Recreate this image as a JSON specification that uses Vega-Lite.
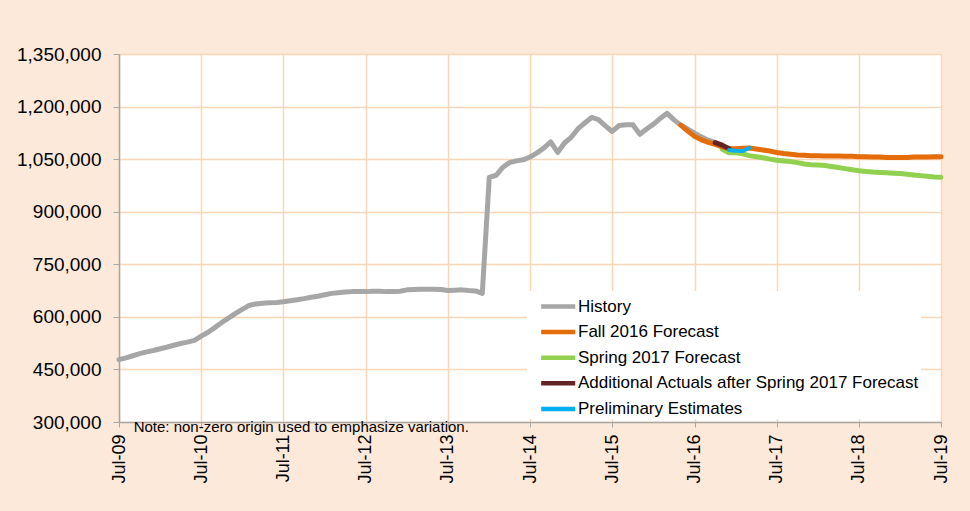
{
  "$schema": "https://vega.github.io/schema/vega-lite/v6.json",
  "width": 822,
  "height": 368,
  "autosize": {"type": "none"},
  "padding": {"left": 119, "top": 54, "right": 29, "bottom": 89},
  "background": "#FDE9D9",
  "config": {
    "view": {"fill": "white", "stroke": null},
    "font": "Liberation Sans",
    "axis": {
      "domainColor": "#A6A6A6",
      "domainWidth": 1.5,
      "tickColor": "#A6A6A6",
      "tickWidth": 1,
      "gridColor": "#FBD6B6",
      "gridWidth": 1.5,
      "labelColor": "black",
      "labelFont": "Liberation Sans",
      "title": null
    },
    "legend": {
      "orient": "none",
      "legendX": 408,
      "legendY": 237,
      "fillColor": "white",
      "padding": 1,
      "symbolOffset": 15.7,
      "symbolType": "M-1.42,0H1.42",
      "symbolSize": 576,
      "symbolStrokeWidth": 4.5,
      "labelFontSize": 17,
      "labelFont": "Liberation Sans",
      "labelColor": "black",
      "labelOffset": 5.3,
      "labelLimit": 600,
      "rowPadding": 1.6,
      "title": null
    }
  },
  "data": {
    "values": [
      {"series": "History", "date": "2009-07-01", "value": 478000},
      {"series": "History", "date": "2009-08-01", "value": 483000},
      {"series": "History", "date": "2009-09-01", "value": 489000},
      {"series": "History", "date": "2009-10-01", "value": 495000},
      {"series": "History", "date": "2009-11-01", "value": 500000},
      {"series": "History", "date": "2009-12-01", "value": 504000},
      {"series": "History", "date": "2010-01-01", "value": 509000},
      {"series": "History", "date": "2010-02-01", "value": 514000},
      {"series": "History", "date": "2010-03-01", "value": 519000},
      {"series": "History", "date": "2010-04-01", "value": 524000},
      {"series": "History", "date": "2010-05-01", "value": 528000},
      {"series": "History", "date": "2010-06-01", "value": 533000},
      {"series": "History", "date": "2010-07-01", "value": 545000},
      {"series": "History", "date": "2010-08-01", "value": 556000},
      {"series": "History", "date": "2010-09-01", "value": 570000},
      {"series": "History", "date": "2010-10-01", "value": 584000},
      {"series": "History", "date": "2010-11-01", "value": 597000},
      {"series": "History", "date": "2010-12-01", "value": 610000},
      {"series": "History", "date": "2011-01-01", "value": 622000},
      {"series": "History", "date": "2011-02-01", "value": 633000},
      {"series": "History", "date": "2011-03-01", "value": 637000},
      {"series": "History", "date": "2011-04-01", "value": 639000},
      {"series": "History", "date": "2011-05-01", "value": 640000},
      {"series": "History", "date": "2011-06-01", "value": 641000},
      {"series": "History", "date": "2011-07-01", "value": 643000},
      {"series": "History", "date": "2011-08-01", "value": 646000},
      {"series": "History", "date": "2011-09-01", "value": 649000},
      {"series": "History", "date": "2011-10-01", "value": 652000},
      {"series": "History", "date": "2011-11-01", "value": 656000},
      {"series": "History", "date": "2011-12-01", "value": 659000},
      {"series": "History", "date": "2012-01-01", "value": 663000},
      {"series": "History", "date": "2012-02-01", "value": 667000},
      {"series": "History", "date": "2012-03-01", "value": 669000},
      {"series": "History", "date": "2012-04-01", "value": 671000},
      {"series": "History", "date": "2012-05-01", "value": 672000},
      {"series": "History", "date": "2012-06-01", "value": 672000},
      {"series": "History", "date": "2012-07-01", "value": 672000},
      {"series": "History", "date": "2012-08-01", "value": 673000},
      {"series": "History", "date": "2012-09-01", "value": 673000},
      {"series": "History", "date": "2012-10-01", "value": 672000},
      {"series": "History", "date": "2012-11-01", "value": 672000},
      {"series": "History", "date": "2012-12-01", "value": 673000},
      {"series": "History", "date": "2013-01-01", "value": 677000},
      {"series": "History", "date": "2013-02-01", "value": 678000},
      {"series": "History", "date": "2013-03-01", "value": 679000},
      {"series": "History", "date": "2013-04-01", "value": 679000},
      {"series": "History", "date": "2013-05-01", "value": 679000},
      {"series": "History", "date": "2013-06-01", "value": 678000},
      {"series": "History", "date": "2013-07-01", "value": 675000},
      {"series": "History", "date": "2013-08-01", "value": 676000},
      {"series": "History", "date": "2013-09-01", "value": 677000},
      {"series": "History", "date": "2013-10-01", "value": 675000},
      {"series": "History", "date": "2013-11-01", "value": 674000},
      {"series": "History", "date": "2013-12-01", "value": 667000},
      {"series": "History", "date": "2014-01-01", "value": 998000},
      {"series": "History", "date": "2014-02-01", "value": 1004000},
      {"series": "History", "date": "2014-03-01", "value": 1026000},
      {"series": "History", "date": "2014-04-01", "value": 1040000},
      {"series": "History", "date": "2014-05-01", "value": 1045000},
      {"series": "History", "date": "2014-06-01", "value": 1048000},
      {"series": "History", "date": "2014-07-01", "value": 1056000},
      {"series": "History", "date": "2014-08-01", "value": 1068000},
      {"series": "History", "date": "2014-09-01", "value": 1082000},
      {"series": "History", "date": "2014-10-01", "value": 1099000},
      {"series": "History", "date": "2014-11-01", "value": 1069000},
      {"series": "History", "date": "2014-12-01", "value": 1096000},
      {"series": "History", "date": "2015-01-01", "value": 1113000},
      {"series": "History", "date": "2015-02-01", "value": 1138000},
      {"series": "History", "date": "2015-03-01", "value": 1153000},
      {"series": "History", "date": "2015-04-01", "value": 1169000},
      {"series": "History", "date": "2015-05-01", "value": 1163000},
      {"series": "History", "date": "2015-06-01", "value": 1145000},
      {"series": "History", "date": "2015-07-01", "value": 1129000},
      {"series": "History", "date": "2015-08-01", "value": 1146000},
      {"series": "History", "date": "2015-09-01", "value": 1148000},
      {"series": "History", "date": "2015-10-01", "value": 1148000},
      {"series": "History", "date": "2015-11-01", "value": 1121000},
      {"series": "History", "date": "2015-12-01", "value": 1136000},
      {"series": "History", "date": "2016-01-01", "value": 1150000},
      {"series": "History", "date": "2016-02-01", "value": 1167000},
      {"series": "History", "date": "2016-03-01", "value": 1181000},
      {"series": "History", "date": "2016-04-01", "value": 1162000},
      {"series": "History", "date": "2016-05-01", "value": 1147000},
      {"series": "History", "date": "2016-06-01", "value": 1136000},
      {"series": "History", "date": "2016-07-01", "value": 1124000},
      {"series": "History", "date": "2016-08-01", "value": 1113000},
      {"series": "History", "date": "2016-09-01", "value": 1104000},
      {"series": "History", "date": "2016-10-01", "value": 1097000},
      {"series": "Fall 2016 Forecast", "date": "2016-05-01", "value": 1147000},
      {"series": "Fall 2016 Forecast", "date": "2016-06-01", "value": 1130000},
      {"series": "Fall 2016 Forecast", "date": "2016-07-01", "value": 1115000},
      {"series": "Fall 2016 Forecast", "date": "2016-08-01", "value": 1105000},
      {"series": "Fall 2016 Forecast", "date": "2016-09-01", "value": 1098000},
      {"series": "Fall 2016 Forecast", "date": "2016-10-01", "value": 1092000},
      {"series": "Fall 2016 Forecast", "date": "2016-11-01", "value": 1085000},
      {"series": "Fall 2016 Forecast", "date": "2016-12-01", "value": 1080000},
      {"series": "Fall 2016 Forecast", "date": "2017-01-01", "value": 1080000},
      {"series": "Fall 2016 Forecast", "date": "2017-02-01", "value": 1081000},
      {"series": "Fall 2016 Forecast", "date": "2017-03-01", "value": 1082000},
      {"series": "Fall 2016 Forecast", "date": "2017-04-01", "value": 1079000},
      {"series": "Fall 2016 Forecast", "date": "2017-05-01", "value": 1076000},
      {"series": "Fall 2016 Forecast", "date": "2017-06-01", "value": 1073000},
      {"series": "Fall 2016 Forecast", "date": "2017-07-01", "value": 1069000},
      {"series": "Fall 2016 Forecast", "date": "2017-08-01", "value": 1066000},
      {"series": "Fall 2016 Forecast", "date": "2017-09-01", "value": 1064000},
      {"series": "Fall 2016 Forecast", "date": "2017-10-01", "value": 1062000},
      {"series": "Fall 2016 Forecast", "date": "2017-11-01", "value": 1061000},
      {"series": "Fall 2016 Forecast", "date": "2017-12-01", "value": 1060000},
      {"series": "Fall 2016 Forecast", "date": "2018-01-01", "value": 1060000},
      {"series": "Fall 2016 Forecast", "date": "2018-02-01", "value": 1059000},
      {"series": "Fall 2016 Forecast", "date": "2018-03-01", "value": 1059000},
      {"series": "Fall 2016 Forecast", "date": "2018-04-01", "value": 1059000},
      {"series": "Fall 2016 Forecast", "date": "2018-05-01", "value": 1058000},
      {"series": "Fall 2016 Forecast", "date": "2018-06-01", "value": 1058000},
      {"series": "Fall 2016 Forecast", "date": "2018-07-01", "value": 1057000},
      {"series": "Fall 2016 Forecast", "date": "2018-08-01", "value": 1057000},
      {"series": "Fall 2016 Forecast", "date": "2018-09-01", "value": 1056000},
      {"series": "Fall 2016 Forecast", "date": "2018-10-01", "value": 1056000},
      {"series": "Fall 2016 Forecast", "date": "2018-11-01", "value": 1055000},
      {"series": "Fall 2016 Forecast", "date": "2018-12-01", "value": 1055000},
      {"series": "Fall 2016 Forecast", "date": "2019-01-01", "value": 1055000},
      {"series": "Fall 2016 Forecast", "date": "2019-02-01", "value": 1055000},
      {"series": "Fall 2016 Forecast", "date": "2019-03-01", "value": 1056000},
      {"series": "Fall 2016 Forecast", "date": "2019-04-01", "value": 1056000},
      {"series": "Fall 2016 Forecast", "date": "2019-05-01", "value": 1056000},
      {"series": "Fall 2016 Forecast", "date": "2019-06-01", "value": 1057000},
      {"series": "Fall 2016 Forecast", "date": "2019-07-01", "value": 1057000},
      {"series": "Spring 2017 Forecast", "date": "2016-11-01", "value": 1078000},
      {"series": "Spring 2017 Forecast", "date": "2016-12-01", "value": 1068000},
      {"series": "Spring 2017 Forecast", "date": "2017-01-01", "value": 1068000},
      {"series": "Spring 2017 Forecast", "date": "2017-02-01", "value": 1065000},
      {"series": "Spring 2017 Forecast", "date": "2017-03-01", "value": 1060000},
      {"series": "Spring 2017 Forecast", "date": "2017-04-01", "value": 1057000},
      {"series": "Spring 2017 Forecast", "date": "2017-05-01", "value": 1054000},
      {"series": "Spring 2017 Forecast", "date": "2017-06-01", "value": 1050000},
      {"series": "Spring 2017 Forecast", "date": "2017-07-01", "value": 1047000},
      {"series": "Spring 2017 Forecast", "date": "2017-08-01", "value": 1045000},
      {"series": "Spring 2017 Forecast", "date": "2017-09-01", "value": 1043000},
      {"series": "Spring 2017 Forecast", "date": "2017-10-01", "value": 1040000},
      {"series": "Spring 2017 Forecast", "date": "2017-11-01", "value": 1036000},
      {"series": "Spring 2017 Forecast", "date": "2017-12-01", "value": 1034000},
      {"series": "Spring 2017 Forecast", "date": "2018-01-01", "value": 1033000},
      {"series": "Spring 2017 Forecast", "date": "2018-02-01", "value": 1032000},
      {"series": "Spring 2017 Forecast", "date": "2018-03-01", "value": 1029000},
      {"series": "Spring 2017 Forecast", "date": "2018-04-01", "value": 1026000},
      {"series": "Spring 2017 Forecast", "date": "2018-05-01", "value": 1023000},
      {"series": "Spring 2017 Forecast", "date": "2018-06-01", "value": 1020000},
      {"series": "Spring 2017 Forecast", "date": "2018-07-01", "value": 1017000},
      {"series": "Spring 2017 Forecast", "date": "2018-08-01", "value": 1015000},
      {"series": "Spring 2017 Forecast", "date": "2018-09-01", "value": 1013000},
      {"series": "Spring 2017 Forecast", "date": "2018-10-01", "value": 1012000},
      {"series": "Spring 2017 Forecast", "date": "2018-11-01", "value": 1011000},
      {"series": "Spring 2017 Forecast", "date": "2018-12-01", "value": 1010000},
      {"series": "Spring 2017 Forecast", "date": "2019-01-01", "value": 1009000},
      {"series": "Spring 2017 Forecast", "date": "2019-02-01", "value": 1007000},
      {"series": "Spring 2017 Forecast", "date": "2019-03-01", "value": 1005000},
      {"series": "Spring 2017 Forecast", "date": "2019-04-01", "value": 1003000},
      {"series": "Spring 2017 Forecast", "date": "2019-05-01", "value": 1001000},
      {"series": "Spring 2017 Forecast", "date": "2019-06-01", "value": 999000},
      {"series": "Spring 2017 Forecast", "date": "2019-07-01", "value": 998000},
      {"series": "Additional Actuals after Spring 2017 Forecast", "date": "2016-10-01", "value": 1097000},
      {"series": "Additional Actuals after Spring 2017 Forecast", "date": "2016-11-01", "value": 1090000},
      {"series": "Additional Actuals after Spring 2017 Forecast", "date": "2016-12-01", "value": 1080000},
      {"series": "Preliminary Estimates", "date": "2016-12-01", "value": 1076000},
      {"series": "Preliminary Estimates", "date": "2017-01-01", "value": 1074000},
      {"series": "Preliminary Estimates", "date": "2017-02-01", "value": 1073000},
      {"series": "Preliminary Estimates", "date": "2017-03-01", "value": 1082000}
    ]
  },
  "layer": [
    {
      "encoding": {
        "x": {
          "field": "date",
          "type": "temporal",
          "scale": {
            "type": "utc",
            "domain": [
              {"year": 2009, "month": 7, "date": 1, "utc": true},
              {"year": 2019, "month": 7, "date": 1, "utc": true}
            ]
          },
          "axis": {
            "values": [
              {"year": 2009, "month": 7, "date": 1, "utc": true},
              {"year": 2010, "month": 7, "date": 1, "utc": true},
              {"year": 2011, "month": 7, "date": 1, "utc": true},
              {"year": 2012, "month": 7, "date": 1, "utc": true},
              {"year": 2013, "month": 7, "date": 1, "utc": true},
              {"year": 2014, "month": 7, "date": 1, "utc": true},
              {"year": 2015, "month": 7, "date": 1, "utc": true},
              {"year": 2016, "month": 7, "date": 1, "utc": true},
              {"year": 2017, "month": 7, "date": 1, "utc": true},
              {"year": 2018, "month": 7, "date": 1, "utc": true},
              {"year": 2019, "month": 7, "date": 1, "utc": true}
            ],
            "labelExpr": "utcFormat(datum.value, '%b-%y')",
            "labelAngle": -90,
            "labelFontSize": 18,
            "labelPadding": 7,
            "labelOverlap": false,
            "labelBound": false,
            "tickSize": 5,
            "grid": true
          }
        },
        "y": {
          "field": "value",
          "type": "quantitative",
          "scale": {"domain": [300000, 1350000], "nice": false, "zero": false},
          "axis": {
            "values": [300000, 450000, 600000, 750000, 900000, 1050000, 1200000, 1350000],
            "format": ",d",
            "labelFontSize": 19,
            "labelPadding": 12,
            "tickSize": 6,
            "grid": true
          }
        },
        "color": {
          "field": "series",
          "type": "nominal",
          "scale": {
            "domain": ["History", "Fall 2016 Forecast", "Spring 2017 Forecast", "Additional Actuals after Spring 2017 Forecast", "Preliminary Estimates"],
            "range": ["#A6A6A6", "#E46C0A", "#92D050", "#632523", "#00B0F0"]
          }
        }
      },
      "layer": [
        {"transform": [{"filter": "datum.series === 'History'"}], "mark": {"type": "line", "strokeWidth": 5, "strokeCap": "round", "strokeJoin": "round"}},
        {"transform": [{"filter": "datum.series === 'Spring 2017 Forecast'"}], "mark": {"type": "line", "strokeWidth": 5, "strokeCap": "round", "strokeJoin": "round"}},
        {"transform": [{"filter": "datum.series === 'Fall 2016 Forecast'"}], "mark": {"type": "line", "strokeWidth": 5, "strokeCap": "round", "strokeJoin": "round"}},
        {"transform": [{"filter": "datum.series === 'Additional Actuals after Spring 2017 Forecast'"}], "mark": {"type": "line", "strokeWidth": 5, "strokeCap": "round", "strokeJoin": "round"}},
        {"transform": [{"filter": "datum.series === 'Preliminary Estimates'"}], "mark": {"type": "line", "strokeWidth": 4, "strokeCap": "round", "strokeJoin": "round"}}
      ]
    },
    {
      "data": {"values": [{"note": "Note: non-zero origin used to emphasize variation."}]},
      "mark": {"type": "text", "align": "left", "baseline": "middle", "dy": 5, "fontSize": 15, "font": "Liberation Sans", "color": "black"},
      "encoding": {
        "x": {"datum": {"year": 2009, "month": 9, "date": 4, "utc": true}, "type": "temporal"},
        "y": {"datum": 300000, "type": "quantitative"},
        "text": {"field": "note"}
      }
    }
  ]
}
